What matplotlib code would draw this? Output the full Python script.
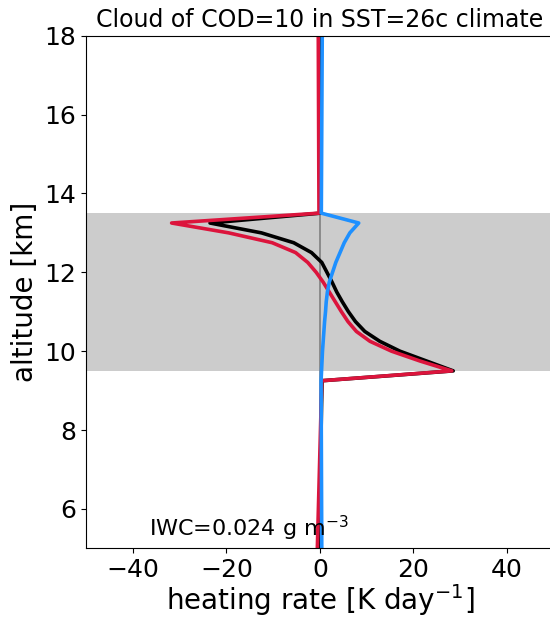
"""Heating-rate profile through a thin cirrus layer (LW, SW and net).

Writes out.png.
"""

import matplotlib
matplotlib.use("Agg")
import matplotlib.pyplot as plt

OUTPUT_PATH = "out.png"

# model levels (km) and heating rates (K/day)
altitude_km = [5.0, 9.25, 9.5, 9.75, 10.0, 10.25, 10.5, 10.75, 11.0, 11.25,
               11.5, 11.75, 12.0, 12.25, 12.5, 12.75, 13.0, 13.25, 13.5, 18.0]
lw_heating = [-0.55, 0.4, 28.2, 21.4, 15.3, 10.7, 7.8, 6.0, 4.6, 3.3,
              2.0, 0.7, -0.8, -2.6, -5.2, -10.2, -19.5, -31.7, -0.2, -0.35]
sw_heating = [0.4, 0.25, 0.35, 0.45, 0.55, 0.7, 0.85, 1.0, 1.2, 1.35,
              1.6, 2.0, 2.7, 3.4, 4.3, 5.2, 6.4, 8.3, 0.3, 0.5]
net_heating = [-0.2, 0.45, 28.5, 22.8, 17.1, 12.8, 9.6, 7.6, 6.1, 4.8,
               3.6, 2.6, 1.5, 0.4, -1.8, -5.6, -12.5, -23.5, 0.1, 0.15]

cloud_base_km = 9.5
cloud_top_km = 13.5

TITLE = "Cloud of COD=10 in SST=26c climate"
IWC_LABEL = "IWC=0.024 g m$^{-3}$"
X_TICKS = [-40, -20, 0, 20, 40]
Y_TICKS = [6, 8, 10, 12, 14, 16, 18]


def main():
    fig = plt.figure(figsize=(5.5, 6.19), dpi=100)
    # the axes runs a little past the right edge of the canvas, as in the original
    ax = fig.add_axes([0.1564, 0.1142, 0.8505, 0.8281])

    ax.axhspan(cloud_base_km, cloud_top_km, color="k", alpha=0.2, lw=0)
    ax.axvline(0, color="gray", lw=1.2)

    ax.plot(net_heating, altitude_km, color="k", lw=2.6)
    ax.plot(lw_heating, altitude_km, color="crimson", lw=2.6)
    ax.plot(sw_heating, altitude_km, color="dodgerblue", lw=2.6)

    ax.text(-36.5, 5.3, IWC_LABEL, fontsize=16)

    ax.set_xlim(-50, 50)
    ax.set_ylim(5, 18)
    ax.set_xticks(X_TICKS)
    ax.set_yticks(Y_TICKS)
    ax.tick_params(labelsize=18)
    ax.set_xlabel("heating rate [K day$^{-1}$]", fontsize=20, labelpad=0)
    ax.set_ylabel("altitude [km]", fontsize=20)
    ax.set_title(TITLE, fontsize=17)

    fig.savefig(OUTPUT_PATH, dpi=100)
    plt.close(fig)


if __name__ == "__main__":
    main()
